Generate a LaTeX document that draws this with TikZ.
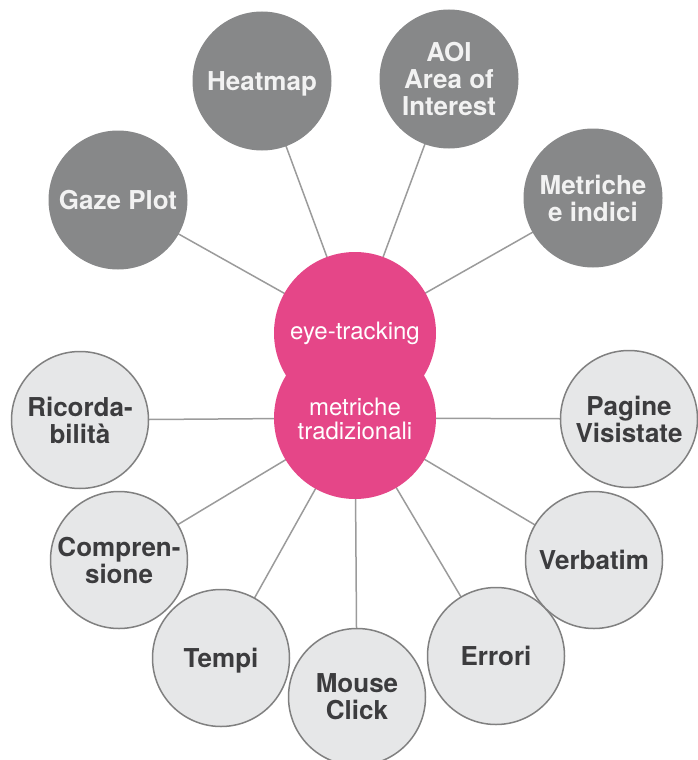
\documentclass[tikz,border=0pt]{standalone}
\usepackage{fontspec}
\setmainfont{TeX Gyre Heros}
\usetikzlibrary{backgrounds}
\definecolor{darkc}{RGB}{135,136,137}
\definecolor{lightc}{RGB}{230,231,232}
\definecolor{edgec}{RGB}{128,128,128}
\definecolor{linec}{RGB}{155,155,155}
\definecolor{pinkc}{RGB}{229,70,136}
\definecolor{darktext}{RGB}{60,60,62}
\definecolor{lighttext}{RGB}{242,242,242}
\begin{document}
\begin{tikzpicture}[x=1pt,y=-1pt,
  darknode/.style={circle,fill=darkc,minimum size=139pt,inner sep=0pt,align=center,text depth=0pt,
    text=lighttext,font=\fontsize{26}{27}\selectfont\bfseries},
  lightnode/.style={circle,fill=lightc,draw=edgec,line width=1.5pt,minimum size=137pt,inner sep=0pt,align=center,text depth=0pt,
    text=darktext,font=\fontsize{26}{27}\selectfont\bfseries},
  pinknode/.style={circle,fill=pinkc,minimum size=162pt,inner sep=0pt},
  pinktext/.style={text=white,align=center,inner sep=0pt,text depth=0pt,font=\fontsize{24}{24}\selectfont},
  conn/.style={draw=linec,line width=1.5pt}]
\useasboundingbox (0,0) rectangle (698,760);
% pink centre
\node[pinknode] (mt) at (355,418) {};
\node[pinknode] (et) at (355,333) {};
\node[pinktext] (ettxt) at (355,331) {eye-tracking};
\node[pinktext] (mttxt) at (355,419) {metriche\\tradizionali};
% dark circles
\node[darknode] (gaze) at (118,200) {Gaze Plot};
\node[darknode] (heat) at (262,81) {Heatmap};
\node[darknode] (aoi) at (449,79) {AOI\\Area of\\Interest};
\node[darknode] (metr) at (593,198) {Metriche\\e indici};
% light circles
\node[lightnode] (ric) at (80,420) {Ricorda-\\bilità};
\node[lightnode] (comp) at (119,560) {Compren-\\sione};
\node[lightnode] (tempi) at (221,658) {Tempi};
\node[lightnode] (mouse) at (357,697) {Mouse\\Click};
\node[lightnode] (err) at (496,656) {Errori};
\node[lightnode] (verb) at (594,560) {Verbatim};
\node[lightnode] (pag) at (629,419) {Pagine\\Visistate};
\begin{pgfonlayer}{background}
\draw[conn] (et.center) -- (gaze.center);
\draw[conn] (et.center) -- (heat.center);
\draw[conn] (et.center) -- (aoi.center);
\draw[conn] (et.center) -- (metr.center);
\draw[conn] (mt.center) -- (ric.center);
\draw[conn] (mt.center) -- (comp.center);
\draw[conn] (mt.center) -- (tempi.center);
\draw[conn] (mt.center) -- (mouse.center);
\draw[conn] (mt.center) -- (err.center);
\draw[conn] (mt.center) -- (verb.center);
\draw[conn] (mt.center) -- (pag.center);
\end{pgfonlayer}
\end{tikzpicture}
\end{document}
